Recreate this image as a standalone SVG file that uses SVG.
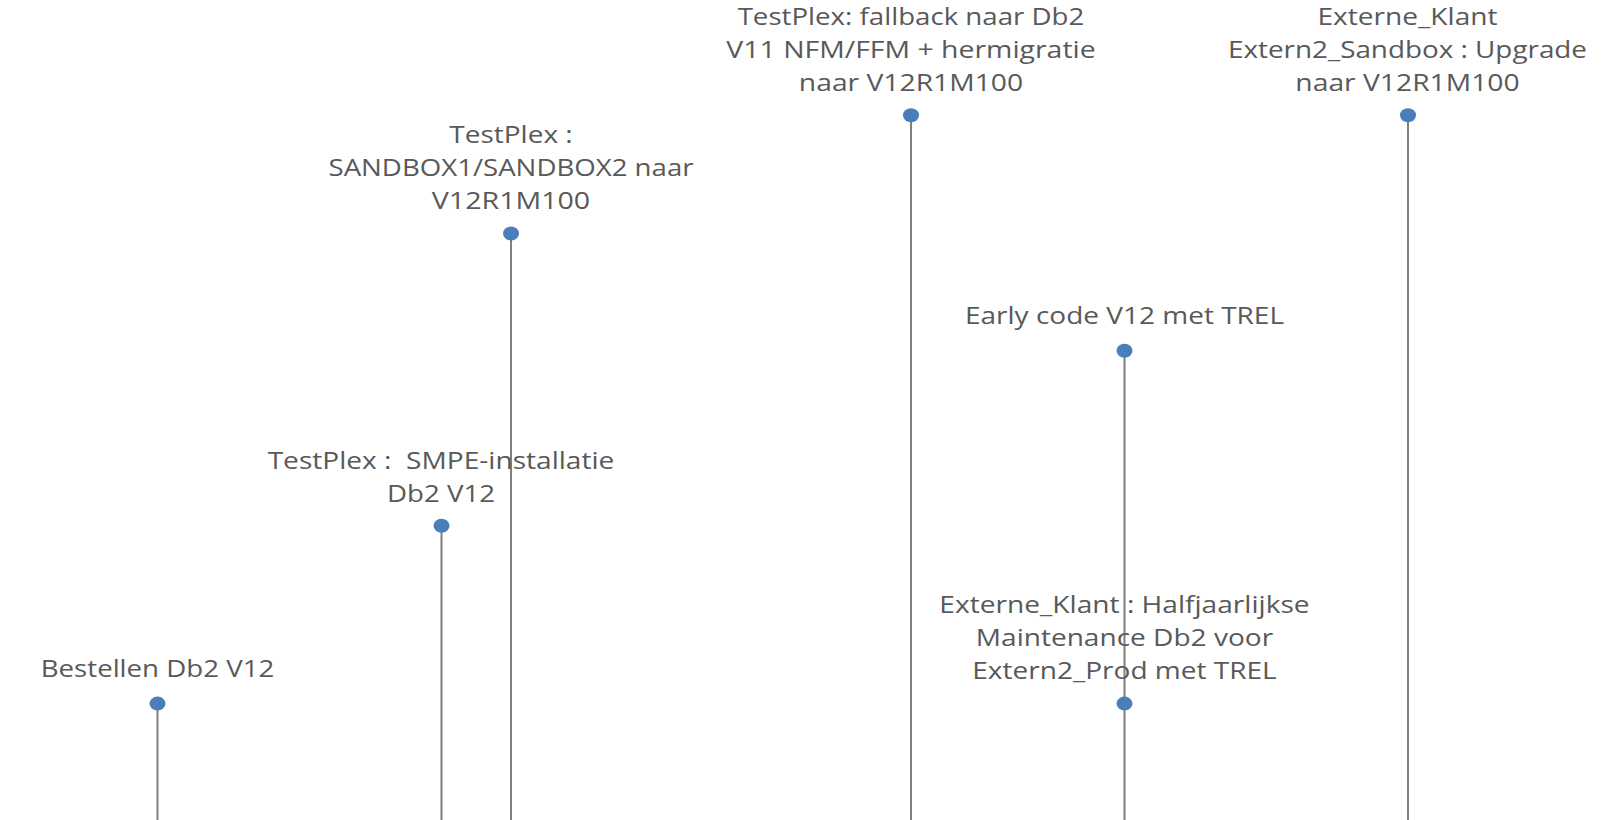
<svg xmlns="http://www.w3.org/2000/svg" width="1613" height="820" viewBox="0 0 1613 820">
<style>
  .lbl { font-family: "Open Sans", "Noto Sans", sans-serif; font-size: 24px; fill: #595959; text-anchor: middle; white-space: pre; }
  .stem { stroke: #7f7f7f; stroke-width: 2; fill: none; }
  .dot { fill: #4a7ebb; }
</style>
<rect width="1613" height="820" fill="#ffffff"/>
<g id="connectors">
  <line class="stem" x1="157.5" y1="703.6" x2="157.5" y2="820"/>
  <line class="stem" x1="441.5" y1="525.7" x2="441.5" y2="820"/>
  <line class="stem" x1="511" y1="233.5" x2="511" y2="820"/>
  <line class="stem" x1="911" y1="115.2" x2="911" y2="820"/>
  <line class="stem" x1="1124.5" y1="350.8" x2="1124.5" y2="820"/>
  <line class="stem" x1="1408" y1="115.2" x2="1408" y2="820"/>
</g>
<g id="node-bestellen">
  <ellipse class="dot" cx="157.5" cy="703.6" rx="8" ry="7"/>
  <text class="lbl" x="157.5" y="676.5" textLength="233.5" lengthAdjust="spacingAndGlyphs">Bestellen Db2 V12</text>
</g>
<g id="node-smpe">
  <ellipse class="dot" cx="441.5" cy="525.7" rx="8" ry="7"/>
  <text class="lbl" x="441" y="468.5" textLength="346.7" lengthAdjust="spacingAndGlyphs" xml:space="preserve">TestPlex :  SMPE-installatie</text>
  <text class="lbl" x="441" y="501.5" textLength="108" lengthAdjust="spacingAndGlyphs">Db2 V12</text>
</g>
<g id="node-sandbox">
  <ellipse class="dot" cx="511" cy="233.5" rx="8" ry="7"/>
  <text class="lbl" x="511" y="142.5" textLength="123.4" lengthAdjust="spacingAndGlyphs">TestPlex :</text>
  <text class="lbl" x="511" y="175.5" textLength="365" lengthAdjust="spacingAndGlyphs">SANDBOX1/SANDBOX2 naar</text>
  <text class="lbl" x="511" y="208.5" textLength="158.4" lengthAdjust="spacingAndGlyphs">V12R1M100</text>
</g>
<g id="node-fallback">
  <ellipse class="dot" cx="911" cy="115.2" rx="8" ry="7"/>
  <text class="lbl" x="911" y="25" textLength="346.7" lengthAdjust="spacingAndGlyphs">TestPlex: fallback naar Db2</text>
  <text class="lbl" x="911" y="58" textLength="369.3" lengthAdjust="spacingAndGlyphs">V11 NFM/FFM + hermigratie</text>
  <text class="lbl" x="911" y="91" textLength="224.3" lengthAdjust="spacingAndGlyphs">naar V12R1M100</text>
</g>
<g id="node-early">
  <ellipse class="dot" cx="1124.5" cy="350.8" rx="8" ry="7"/>
  <text class="lbl" x="1124.5" y="323.5" textLength="319" lengthAdjust="spacingAndGlyphs">Early code V12 met TREL</text>
</g>
<g id="node-maintenance">
  <ellipse class="dot" cx="1124.5" cy="703.6" rx="8" ry="7"/>
  <text class="lbl" x="1124.5" y="612.5" textLength="370.3" lengthAdjust="spacingAndGlyphs">Externe_Klant : Halfjaarlijkse</text>
  <text class="lbl" x="1124.5" y="645.5" textLength="297.3" lengthAdjust="spacingAndGlyphs">Maintenance Db2 voor</text>
  <text class="lbl" x="1124.5" y="678.5" textLength="304.5" lengthAdjust="spacingAndGlyphs">Extern2_Prod met TREL</text>
</g>
<g id="node-extern-sandbox">
  <ellipse class="dot" cx="1408" cy="115.2" rx="8" ry="7"/>
  <text class="lbl" x="1407.5" y="25" textLength="180" lengthAdjust="spacingAndGlyphs">Externe_Klant</text>
  <text class="lbl" x="1407.5" y="58" textLength="359" lengthAdjust="spacingAndGlyphs">Extern2_Sandbox : Upgrade</text>
  <text class="lbl" x="1407.5" y="91" textLength="224.3" lengthAdjust="spacingAndGlyphs">naar V12R1M100</text>
</g>
</svg>
